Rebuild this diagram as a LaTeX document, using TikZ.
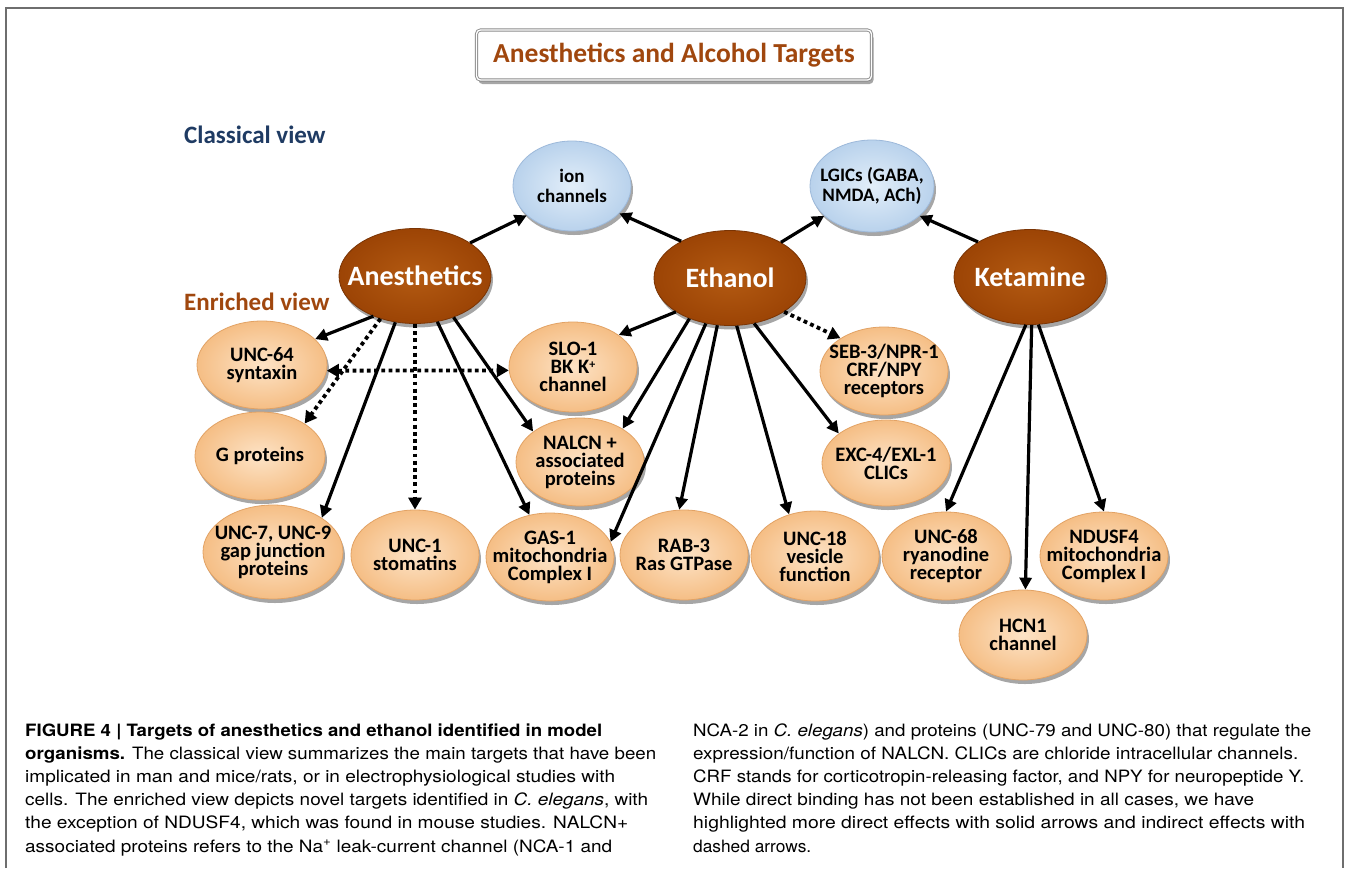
\documentclass[tikz,border=0pt]{standalone}
\usepackage{graphicx}
\usepackage{fontspec}
\setmainfont{Carlito}
\newfontfamily\capfont{TeX Gyre Heros}
\usetikzlibrary{shapes.geometric,arrows.meta,shadows}
\definecolor{tin}{HTML}{FDE3C6}
\definecolor{tout}{HTML}{F5BE85}
\definecolor{tedge}{HTML}{E2A264}
\definecolor{bin}{HTML}{E2EEF9}
\definecolor{bout}{HTML}{B9D2EC}
\definecolor{bedge}{HTML}{9DB9DA}
\definecolor{rin}{HTML}{B35A12}
\definecolor{rout}{HTML}{9C4405}
\definecolor{redge}{HTML}{7A3404}
\definecolor{navy}{HTML}{1F3B63}
\definecolor{rust}{HTML}{A0470E}
\definecolor{framec}{HTML}{6E6E6E}
\newcommand\fitw[2]{\resizebox{#1}{\height}{#2}}
\begin{document}
\begin{tikzpicture}[x=1pt,y=-1pt,
  shad/.style={drop shadow={shadow xshift=2pt,shadow yshift=-4pt,opacity=0.35,fill=black}},
  target/.style={ellipse, minimum width=128pt, minimum height=88pt, inner sep=-22pt,
    inner color=tin, outer color=tout, draw=tedge, line width=0.8pt, shad,
    align=center, font=\fontsize{20.5}{18}\selectfont\bfseries, text=black},
  classic/.style={ellipse, minimum width=118pt, minimum height=90pt, inner sep=-22pt,
    inner color=bin, outer color=bout, draw=bedge, line width=0.8pt, shad,
    align=center, font=\fontsize{19}{19.5}\selectfont\bfseries, text=black},
  drug/.style={ellipse, minimum width=152pt, minimum height=95pt, inner sep=-22pt,
    inner color=rin, outer color=rout, draw=redge, line width=0.8pt, shad,
    font=\fontsize{28}{30}\selectfont\bfseries, text=white},
  arr/.style={line width=3.2pt, -{Triangle[length=12pt,width=12pt]}},
  dotarr/.style={line width=3.8pt, dash pattern=on 3.8pt off 3.4pt, -{Triangle[length=12pt,width=13pt]}},
  capl/.style={anchor=base west, inner sep=0pt, font=\capfont\fontsize{17}{20}\selectfont},
  head/.style={anchor=west, inner sep=0pt, font=\fontsize{25}{27}\selectfont\bfseries}
]
\useasboundingbox (0,0) rectangle (1349,868);
\fill[white] (0,0) rectangle (1349,868);
\draw[framec, line width=1.4pt] (6,868) -- (6,8) -- (1343,8) -- (1343,868);

% title
\node[draw=framec!80, double=white, double distance=1.3pt, line width=0.9pt, rounded corners=4pt,
  fill=white, minimum width=395pt, minimum height=50pt, shad,
  font=\fontsize{27.5}{29}\selectfont\bfseries, text=rust] (title) at (674,55) {Anesthetics and Alcohol Targets};

\node[head, text=navy] (cv) at (184,135) {Classical view};
\node[head, text=rust] (ev) at (184,302) {Enriched view};

% classical targets
\node[classic] (ion) at (572,186) {ion\\channels};
\node[classic, minimum width=124pt, minimum height=92pt] (lgic) at (872,186) {LGICs (GABA,\\NMDA, ACh)};

% drugs
\node[drug] (anes) at (415,276) {Anesthetics};
\node[drug] (eth) at (730,278) {Ethanol};
\node[drug] (ket) at (1030,277) {Ketamine};

% enriched targets
\node[target, minimum width=130pt] (unc64) at (262,365) {UNC-64\\syntaxin};
\node[target, minimum width=130pt] (gprot) at (260,456) {G proteins};
\node[target, minimum width=140pt, minimum height=94pt] (unc7) at (273,552) {UNC-7, UNC-9\\gap junction\\proteins};
\node[target, minimum height=90pt] (unc1) at (415,555) {UNC-1\\stomatins};
\node[target] (gas1) at (550,557) {GAS-1\\mitochondria\\Complex I};
\node[target, minimum height=90pt] (slo1) at (573,367) {SLO-1\\BK K\smash{\raisebox{5pt}{\fontsize{12}{12}\selectfont +}}\\channel};
\node[target] (nalcn) at (580,462) {NALCN +\\associated\\proteins};
\node[target, minimum height=90pt] (rab3) at (684,555) {RAB-3\\Ras GTPase};
\node[target, minimum height=90pt] (unc18) at (815,556) {UNC-18\\vesicle\\function};
\node[target] (seb3) at (884,371) {SEB-3/NPR-1\\CRF/NPY\\receptors};
\node[target, minimum height=86pt] (exc4) at (886,463) {EXC-4/EXL-1\\CLICs};
\node[target] (unc68) at (946,556) {UNC-68\\ryanodine\\receptor};
\node[target, minimum height=90pt] (hcn1) at (1023,635) {HCN1\\channel};
\node[target] (ndusf4) at (1104,556) {NDUSF4\\mitochondria\\Complex I};

% classical arrows
\draw[arr] (anes.31) -- (ion.213);
\draw[arr] (eth.143) -- (ion.330);
\draw[arr] (eth.35) -- (lgic.212);
\draw[arr] (ket.146) -- (lgic.328);

% anesthetics
\draw[arr] (anes.224) -- (unc64.26);
\draw[dotarr] (anes.231) -- (gprot.36);
\draw[arr] (anes.247) -- (unc7.35);
\draw[dotarr] (anes.270) -- (unc1.90);
\draw[arr] (anes.296) -- (gas1.116);
\draw[arr] (anes.313) -- (nalcn.147);
\draw[line width=3.8pt, dash pattern=on 3.8pt off 3.4pt,
  {Triangle[length=12pt,width=13pt]}-{Triangle[length=12pt,width=13pt]}] (unc64.-5) -- (slo1.183);

% ethanol
\draw[arr] (eth.212) -- (slo1.35);
\draw[arr] (eth.225) -- (nalcn.38);
\draw[arr] (eth.242) -- (gas1.14);
\draw[arr] (eth.255) -- (rab3.96);
\draw[arr] (eth.278) -- (unc18.122);
\draw[arr] (eth.298) -- (exc4.148);
\draw[dotarr] (eth.328) -- (seb3.143);

% ketamine
\draw[arr] (ket.265) -- (unc68.90);
\draw[arr] (ket.272) -- (hcn1.87);
\draw[arr] (ket.280) -- (ndusf4.90);

% caption
\node[capl] (l1) at (25,736) {\fitw{577pt}{\bfseries FIGURE 4 | Targets of anesthetics and ethanol identified in model}};
\node[capl] (l2) at (25,759) {\fitw{631pt}{\textbf{organisms.} The classical view summarizes the main targets that have been}};
\node[capl] (l3) at (25,782) {\fitw{590pt}{implicated in man and mice/rats, or in electrophysiological studies with}};
\node[capl] (l4) at (25,805) {\fitw{623pt}{cells. The enriched view depicts novel targets identified in \textit{C. elegans}, with}};
\node[capl] (l5) at (25,828) {\fitw{603pt}{the exception of NDUSF4, which was found in mouse studies. NALCN+}};
\node[capl] (l6) at (25,852) {\fitw{587pt}{associated proteins refers to the Na\textsuperscript{+} leak-current channel (NCA-1 and}};
\node[capl] (r1) at (693,736) {\fitw{618pt}{NCA-2 in \textit{C. elegans}) and proteins (UNC-79 and UNC-80) that regulate the}};
\node[capl] (r2) at (693,759) {\fitw{605pt}{expression/function of NALCN. CLICs are chloride intracellular channels.}};
\node[capl] (r3) at (693,782) {\fitw{611pt}{CRF stands for corticotropin-releasing factor, and NPY for neuropeptide Y.}};
\node[capl] (r4) at (693,805) {\fitw{561pt}{While direct binding has not been established in all cases, we have}};
\node[capl] (r5) at (693,828) {\fitw{612pt}{highlighted more direct effects with solid arrows and indirect effects with}};
\node[capl] (r6) at (693,852) {\fitw{118pt}{dashed arrows.}};
\end{tikzpicture}
\end{document}
